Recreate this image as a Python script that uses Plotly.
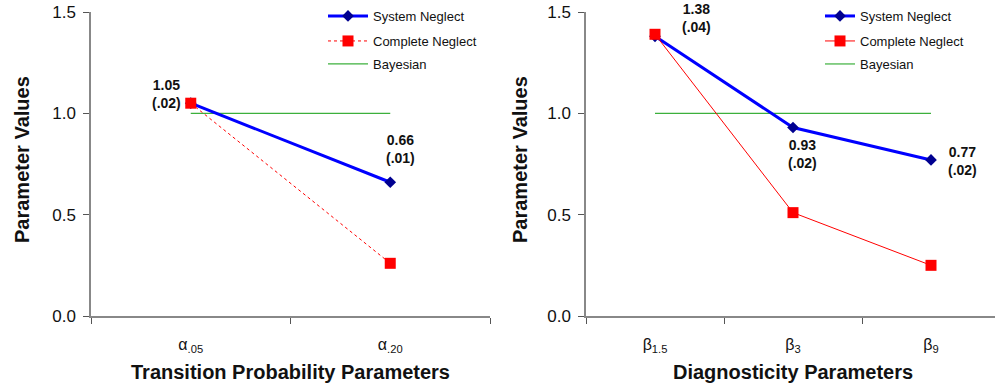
import plotly.graph_objects as go

# ---- data ----
alpha_cats = ["α<sub>.05</sub>", "α<sub>.20</sub>"]
alpha_system = [1.05, 0.66]
alpha_complete = [1.05, 0.26]
alpha_bayes = [1.0, 1.0]
alpha_labels = ["1.05<br>(.02)", "0.66<br>(.01)"]

beta_cats = ["β<sub>1.5</sub>", "β<sub>3</sub>", "β<sub>9</sub>"]
beta_system = [1.38, 0.93, 0.77]
beta_complete = [1.39, 0.51, 0.25]
beta_bayes = [1.0, 1.0, 1.0]
beta_labels = ["1.38<br>(.04)", "0.93<br>(.02)", "0.77<br>(.02)"]

y_ticks = [0.0, 0.5, 1.0, 1.5]
y_ticktext = ["0.0", "0.5", "1.0", "1.5"]

BLUE = "#0000FF"
NAVY = "#000090"
RED = "#FF0000"
GREEN = "#3CB03C"
AXIS = "#888888"
FONT = "Liberation Sans, Arial, sans-serif"
W, H = 995, 392
MT, MB = 12, 76
PH = H - MT - MB

fig = go.Figure()

# left panel
fig.add_trace(go.Scatter(x=alpha_cats, y=alpha_bayes, mode="lines", name="Bayesian",
                         line=dict(color=GREEN, width=1.2),
                         xaxis="x", yaxis="y", legend="legend3"))
fig.add_trace(go.Scatter(x=alpha_cats, y=alpha_system, mode="lines+markers", name="System Neglect",
                         line=dict(color=BLUE, width=3), marker=dict(symbol="diamond", size=9, color=NAVY),
                         xaxis="x", yaxis="y", legend="legend"))
fig.add_trace(go.Scatter(x=alpha_cats, y=alpha_complete, mode="lines+markers", name="Complete Neglect",
                         line=dict(color=RED, width=1, dash="dot"), marker=dict(symbol="square", size=11, color=RED),
                         xaxis="x", yaxis="y", legend="legend2"))

# right panel
fig.add_trace(go.Scatter(x=beta_cats, y=beta_bayes, mode="lines", name="Bayesian",
                         line=dict(color=GREEN, width=1.2),
                         xaxis="x2", yaxis="y2", legend="legend6"))
fig.add_trace(go.Scatter(x=beta_cats, y=beta_system, mode="lines+markers", name="System Neglect",
                         line=dict(color=BLUE, width=3), marker=dict(symbol="diamond", size=9, color=NAVY),
                         xaxis="x2", yaxis="y2", legend="legend4"))
fig.add_trace(go.Scatter(x=beta_cats, y=beta_complete, mode="lines+markers", name="Complete Neglect",
                         line=dict(color=RED, width=1), marker=dict(symbol="square", size=11, color=RED),
                         xaxis="x2", yaxis="y2", legend="legend5"))

axis_common = dict(showline=True, linecolor=AXIS, linewidth=1.5, showgrid=False, zeroline=False,
                   ticks="outside", tickcolor="#555555", ticklen=6)
xfont = dict(family=FONT, size=16, color="#111111")
yfont = dict(family=FONT, size=17, color="#111111")

L0, L1 = 91 / W, 490 / W
R0, R1 = 586 / W, 1.0
beta_max = 2.5 - (1000 - 995) / 138.0

fig.update_layout(
    width=W, height=H,
    showlegend=True,
    margin=dict(l=0, r=0, t=MT, b=MB, autoexpand=False),
    plot_bgcolor="white", paper_bgcolor="white",
    font=dict(family=FONT, color="#111111"),
    xaxis=dict(domain=[L0, L1], type="category", range=[-0.5, 1.5], tickson="boundaries",
               anchor="y", ticklabelstandoff=13, tickfont=xfont, **axis_common),
    yaxis=dict(domain=[0, 1], range=[0, 1.5], tickvals=y_ticks, ticktext=y_ticktext,
               anchor="x", ticklabelstandoff=4, tickfont=yfont, **axis_common),
    xaxis2=dict(domain=[R0, R1], type="category", range=[-0.5, beta_max], tickson="boundaries",
                anchor="y2", ticklabelstandoff=13, tickfont=xfont, **axis_common),
    yaxis2=dict(domain=[0, 1], range=[0, 1.5], tickvals=y_ticks, ticktext=y_ticktext,
                anchor="x2", ticklabelstandoff=4, tickfont=yfont, **axis_common),
)

def py(pix):
    # pixel y (from top) -> paper y
    return (H - MB - pix) / PH

legend_font = dict(family=FONT, size=13, color="#111111")
legend_style = dict(font=legend_font, bgcolor="rgba(0,0,0,0)",
                    xanchor="left", yanchor="middle", visible=True)
leg_rows = [16, 41, 64]
for i, name in enumerate(["legend", "legend2", "legend3"]):
    fig.update_layout({name: dict(x=323 / W, y=py(leg_rows[i]), itemwidth=40, **legend_style)})
for i, name in enumerate(["legend4", "legend5", "legend6"]):
    fig.update_layout({name: dict(x=820 / W, y=py(leg_rows[i]), itemwidth=30, **legend_style)})

ann_font = dict(family=FONT, size=14, color="#111111")
anns = []
# left panel value labels
anns.append(dict(x=alpha_cats[0], y=alpha_system[0], xref="x", yref="y", text="<b>" + alpha_labels[0] + "</b>",
                 showarrow=False, xanchor="right", yanchor="bottom", xshift=-8, yshift=-10, font=ann_font))
anns.append(dict(x=alpha_cats[1], y=alpha_system[1], xref="x", yref="y", text="<b>" + alpha_labels[1] + "</b>",
                 showarrow=False, xanchor="center", yanchor="bottom", xshift=10, yshift=14, font=ann_font))
# right panel value labels
anns.append(dict(x=beta_cats[0], y=beta_system[0], xref="x2", yref="y2", text="<b>" + beta_labels[0] + "</b>",
                 showarrow=False, xanchor="left", yanchor="bottom", xshift=25, yshift=-1, font=ann_font))
anns.append(dict(x=beta_cats[1], y=beta_system[1], xref="x2", yref="y2", text="<b>" + beta_labels[1] + "</b>",
                 showarrow=False, xanchor="center", yanchor="top", xshift=9, yshift=-7, font=ann_font))
anns.append(dict(x=beta_cats[2], y=beta_system[2], xref="x2", yref="y2", text="<b>" + beta_labels[2] + "</b>",
                 showarrow=False, xanchor="left", yanchor="middle", xshift=15, yshift=-1, font=ann_font))

title_font = dict(family=FONT, size=20, color="#111111")
anns.append(dict(x=290 / W, y=py(372), xref="paper", yref="paper", text="<b>Transition Probability Parameters</b>",
                 showarrow=False, xanchor="center", yanchor="middle", font=title_font))
anns.append(dict(x=793 / W, y=py(372), xref="paper", yref="paper", text="<b>Diagnosticity Parameters</b>",
                 showarrow=False, xanchor="center", yanchor="middle", font=title_font))
anns.append(dict(x=22 / W, y=py(160), xref="paper", yref="paper", text="<b>Parameter Values</b>", textangle=-90,
                 showarrow=False, xanchor="center", yanchor="middle", font=title_font))
anns.append(dict(x=520 / W, y=py(160), xref="paper", yref="paper", text="<b>Parameter Values</b>", textangle=-90,
                 showarrow=False, xanchor="center", yanchor="middle", font=title_font))
fig.update_layout(annotations=anns)

fig.write_html("out.html", config={"displayModeBar": False},
               post_script="document.body.style.margin='0';")
